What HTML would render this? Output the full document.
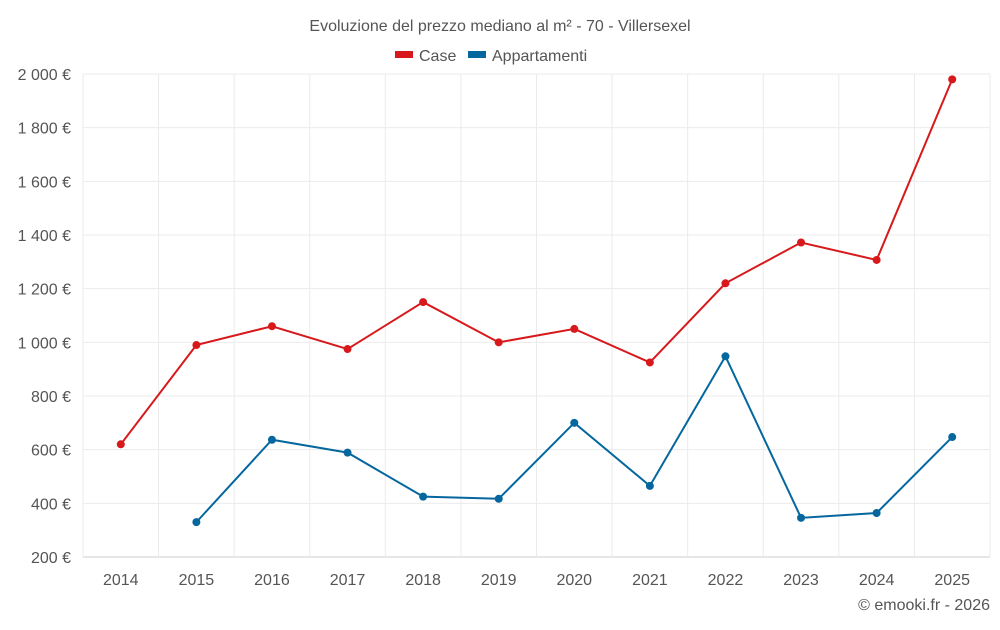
<!DOCTYPE html>
<html><head><meta charset="utf-8"><style>
body{margin:0;background:#fff;font-family:"Liberation Sans",sans-serif;}
svg text{font-family:"Liberation Sans",sans-serif;}
</style></head><body>
<svg id="chart" width="1000" height="625">
<text x="500" y="31" text-anchor="middle" font-size="16" fill="#555">Evoluzione del prezzo mediano al m² - 70 - Villersexel</text>
<g>
<g><rect x="395" y="51" width="18" height="7" fill="#d7191c"/><text x="419" y="61" font-size="16" fill="#555">Case</text></g>
<g><rect x="468" y="51" width="18" height="7" fill="#05679e"/><text x="492" y="61" font-size="16" fill="#555">Appartamenti</text></g>
</g>
<g id="grid"></g><g id="axes"></g><g id="series"></g>
<text x="990" y="610" text-anchor="end" font-size="16" fill="#555">© emooki.fr - 2026</text>
</svg>
<script>
const years=[2014,2015,2016,2017,2018,2019,2020,2021,2022,2023,2024,2025];
const caseVals=[620,990,1060,975,1150,1000,1050,925,1220,1372,1307,1980];
const aptVals=[null,330,637,589,425,417,700,465,948,346,364,647];
const yTicks=[200,400,600,800,1000,1200,1400,1600,1800,2000];
const tickLabels=["200 €","400 €","600 €","800 €","1 000 €","1 200 €","1 400 €","1 600 €","1 800 €","2 000 €"];
const L=83,R=990,T=74,B=557,NS="http://www.w3.org/2000/svg";
const step=(R-L)/years.length;
const x=i=>L+step*(i+0.5);
const y=v=>B-(v-200)/(2000-200)*(B-T);
function mk(t,a,p){const e=document.createElementNS(NS,t);for(const k in a)e.setAttribute(k,a[k]);p.appendChild(e);return e;}
const g=document.getElementById('grid'),ax=document.getElementById('axes'),s=document.getElementById('series');
yTicks.forEach((v,i)=>{
const ln=mk('line',{x1:L,x2:R,y1:y(v),y2:y(v),stroke:i==0?'#ccc':'#ebebeb'},g);


const t=mk('text',{x:71,y:y(v)+6,'text-anchor':'end','font-size':16,fill:'#555'},ax);t.textContent=tickLabels[i];


});
for(let i=0;i<=years.length;i++){
const ln=mk('line',{x1:L+step*i,x2:L+step*i,y1:T,y2:B,stroke:'#ebebeb'},g);


}
years.forEach((yr,i)=>{
const t=mk('text',{x:x(i),y:585,'text-anchor':'middle','font-size':16,fill:'#555'},ax);t.textContent=yr;


});
function series(vals,color,name){
let d='';vals.forEach((v,i)=>{if(v==null)return;d+=(d?'L':'M')+x(i)+','+y(v);});
const p=mk('path',{d:d,fill:'none',stroke:color,'stroke-width':2},s);


vals.forEach((v,i)=>{if(v==null)return;
const c=mk('circle',{cx:x(i),cy:y(v),r:4,fill:color},s);


});
}
series(caseVals,'#d7191c','case');
series(aptVals,'#05679e','appartamenti');
</script>
</body></html>
